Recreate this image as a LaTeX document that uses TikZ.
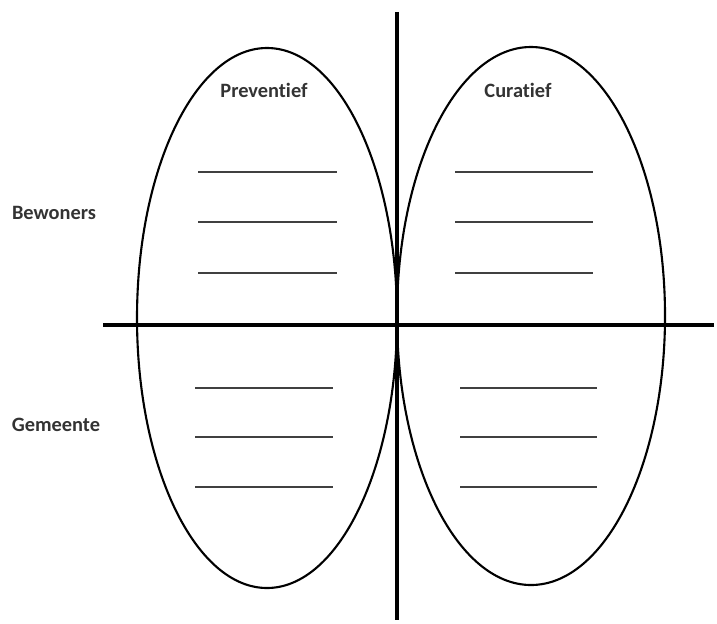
\documentclass[tikz,border=0pt]{standalone}
\usepackage{fontspec}
\setmainfont{Carlito}[Ligatures=NoCommon]
\usetikzlibrary{positioning}

\begin{document}
\begin{tikzpicture}
\useasboundingbox (0,0) rectangle (7.17,6.23);
% the two ovals
\draw[line width=0.6pt] (2.67,3.05) ellipse [x radius=1.30, y radius=2.70];
\draw[line width=0.6pt] (5.31,3.07) ellipse [x radius=1.34, y radius=2.69];
% axes
\draw[line width=0.9pt] (3.97,6.11) -- (3.97,0.03);
\draw[line width=0.9pt] (1.03,2.98) -- (7.14,2.98);
% blank answer lines
\foreach \y in {4.51,4.01,3.50}{
  \draw[line width=0.5pt,black!75] (1.98,\y) -- (3.37,\y);
  \draw[line width=0.5pt,black!75] (4.55,\y) -- (5.93,\y);
}
\foreach \y in {2.35,1.86,1.36}{
  \draw[line width=0.5pt,black!75] (1.95,\y) -- (3.33,\y);
  \draw[line width=0.5pt,black!75] (4.60,\y) -- (5.97,\y);
}
% labels
\node[font=\fontsize{5.8}{7}\selectfont\bfseries,black!80] (prev) at (2.64,5.33) {Preventief};
\node[font=\fontsize{5.8}{7}\selectfont\bfseries,black!80] (cur) at (5.18,5.33) {Curatief};
\node[font=\fontsize{5.8}{7}\selectfont\bfseries,black!80] (bew) at (0.54,4.10) {Bewoners};
\node[font=\fontsize{5.8}{7}\selectfont\bfseries,black!80] (gem) at (0.56,1.98) {Gemeente};
\end{tikzpicture}
\end{document}
